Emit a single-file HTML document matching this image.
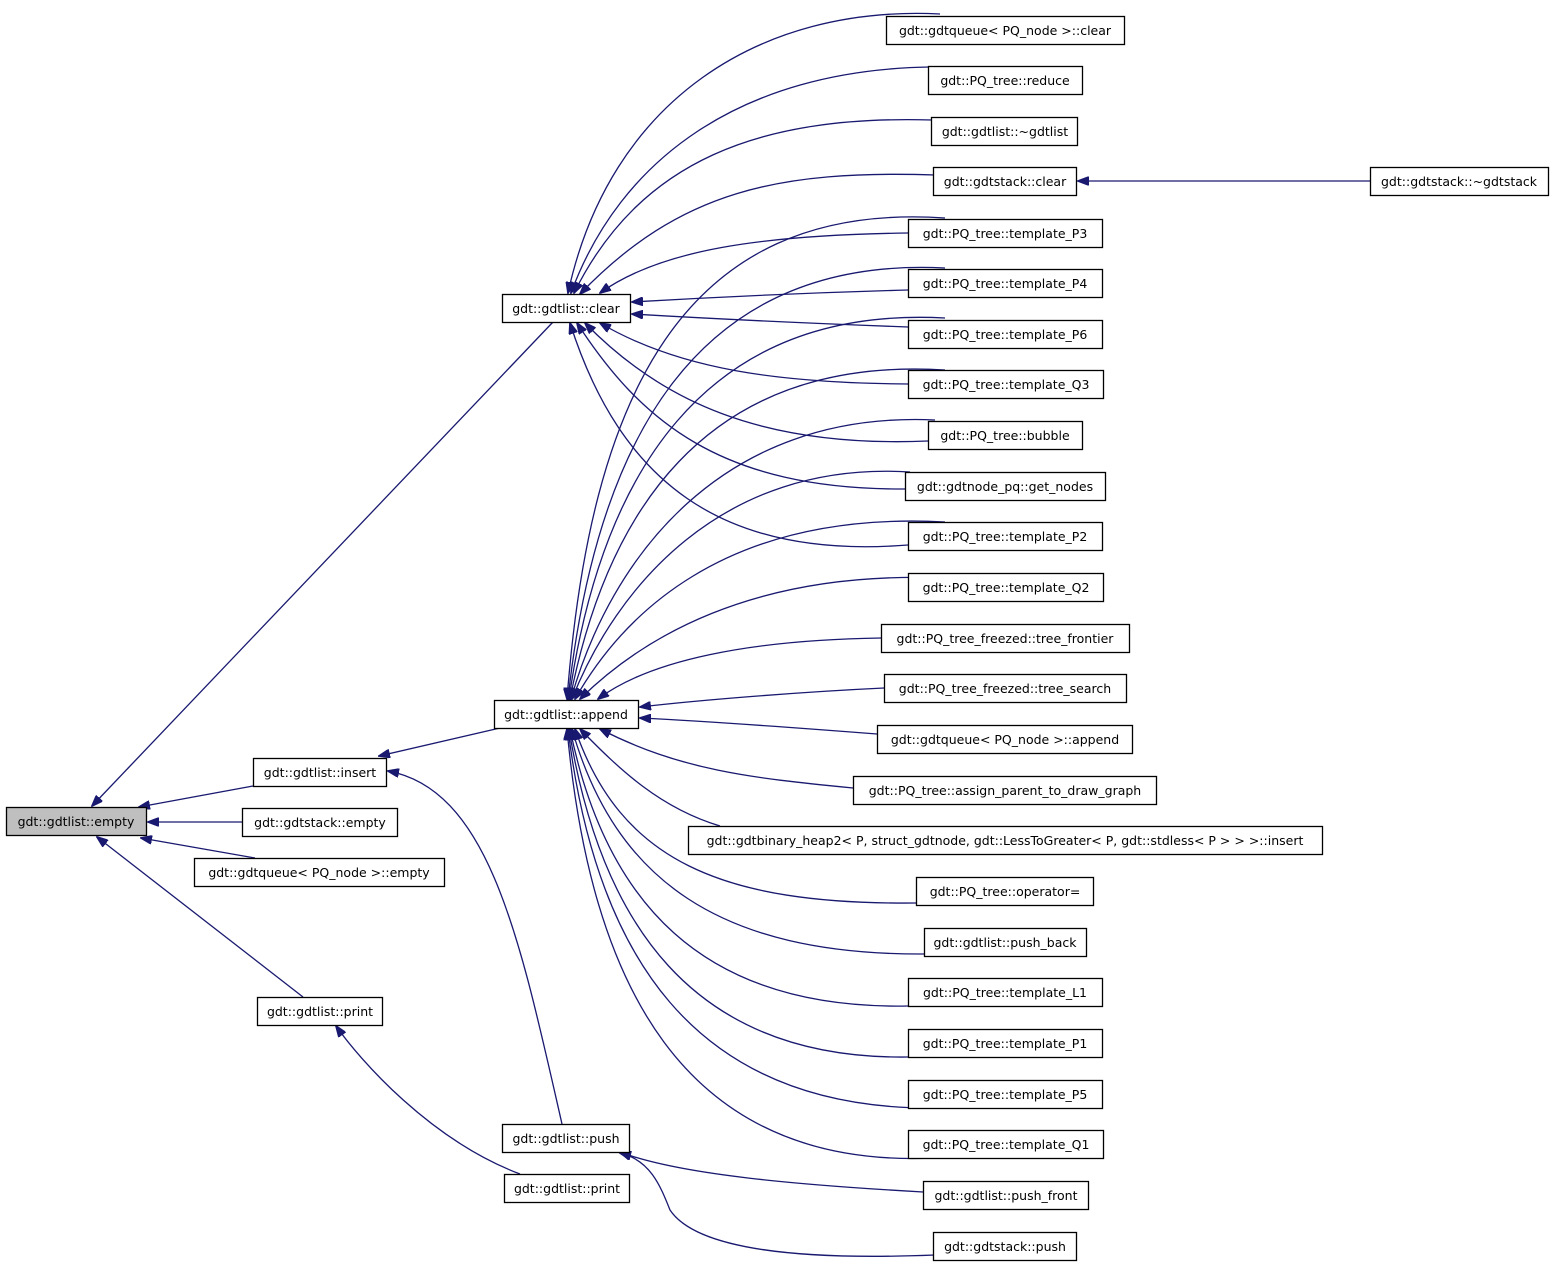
<!DOCTYPE html>
<html><head><meta charset="utf-8"><style>
html,body{margin:0;padding:0;background:#fff}
svg{display:block}
text{font-family:"DejaVu Sans","Liberation Sans",sans-serif;font-size:12.5px;fill:#000}
</style></head><body>
<svg width="1554" height="1265" viewBox="0 0 1554 1265" xmlns="http://www.w3.org/2000/svg">
<defs><marker id="a" markerWidth="12" markerHeight="9" refX="11" refY="4.5" orient="auto" markerUnits="userSpaceOnUse"><polygon points="0,0 12,4.5 0,9" fill="#191970" stroke="#191970"/></marker></defs>
<g fill="none" stroke="#191970" stroke-width="1.3" marker-end="url(#a)">
<path d="M553,322 L92,806"/>
<path d="M253,786 L139,807"/>
<path d="M242,822 L148,822"/>
<path d="M255,858 L141,838"/>
<path d="M303,997 L97,837"/>
<path d="M500,728 L379,756"/>
<path d="M562,1124 C520,940 490,790 388,771"/>
<path d="M520,1174 C430,1140 360,1060 336,1026"/>
<path d="M1370,181 L1078,181"/>
<path d="M940,14 C760,5 610,100 568,293"/>
<path d="M930,67 C740,70 620,160 571,293"/>
<path d="M932,120 C760,115 640,160 574,293"/>
<path d="M935,175 C780,170 680,190 580,294"/>
<path d="M908,233 C760,235 660,250 600,293"/>
<path d="M908,290 C800,293 700,298 632,302"/>
<path d="M908,327 C800,323 700,318 632,314"/>
<path d="M908,384 C780,383 680,370 600,323"/>
<path d="M928,441 C760,448 660,400 585,323"/>
<path d="M905,489 C720,490 640,420 577,323"/>
<path d="M908,545 C720,560 620,480 570,323"/>
<path d="M945,218 C680,200 590,400 567,699"/>
<path d="M945,268 C690,255 595,450 568,699"/>
<path d="M945,318 C700,305 600,480 569,699"/>
<path d="M945,370 C700,355 605,520 570,699"/>
<path d="M935,420 C720,410 610,560 571,699"/>
<path d="M910,472 C720,460 615,590 572,699"/>
<path d="M945,522 C720,510 620,620 575,699"/>
<path d="M945,578 C750,570 640,640 580,699"/>
<path d="M881,638 C750,640 650,660 598,699"/>
<path d="M884,688 C800,692 700,700 640,707"/>
<path d="M877,734 C800,728 720,722 640,718"/>
<path d="M853,788 C750,778 680,770 600,729"/>
<path d="M720,826 C660,808 620,770 580,729"/>
<path d="M916,903 C720,905 620,860 575,729"/>
<path d="M924,954 C720,955 615,880 572,729"/>
<path d="M908,1006 C700,1010 605,900 570,729"/>
<path d="M908,1057 C690,1060 600,920 569,729"/>
<path d="M935,1108 C690,1110 595,950 568,729"/>
<path d="M935,1158 C680,1170 590,980 567,729"/>
<path d="M923,1192 C800,1185 680,1175 620,1152"/>
<path d="M935,1255 C760,1262 690,1240 670,1210 C660,1185 650,1160 620,1153"/>
</g>
<g stroke="#000" stroke-width="1.3" fill="#fff">
<rect x="6.5" y="807.5" width="140" height="28" fill="#bfbfbf"/>
<rect x="502.5" y="294.5" width="128" height="28"/>
<rect x="253.5" y="758.5" width="133" height="28"/>
<rect x="242.5" y="808.5" width="155" height="28"/>
<rect x="194.5" y="858.5" width="250" height="28"/>
<rect x="257.5" y="997.5" width="125" height="28"/>
<rect x="494.5" y="700.5" width="144" height="28"/>
<rect x="502.5" y="1124.5" width="127" height="28"/>
<rect x="504.5" y="1174.5" width="125" height="28"/>
<rect x="886.5" y="16.5" width="238" height="28"/>
<rect x="928.5" y="66.5" width="154" height="28"/>
<rect x="931.5" y="117.5" width="146" height="28"/>
<rect x="933.5" y="167.5" width="143" height="28"/>
<rect x="1370.5" y="167.5" width="178" height="28"/>
<rect x="908.5" y="219.5" width="194" height="28"/>
<rect x="908.5" y="269.5" width="194" height="28"/>
<rect x="908.5" y="320.5" width="194" height="28"/>
<rect x="908.5" y="370.5" width="195" height="28"/>
<rect x="928.5" y="421.5" width="154" height="28"/>
<rect x="905.5" y="472.5" width="200" height="28"/>
<rect x="908.5" y="522.5" width="194" height="28"/>
<rect x="908.5" y="573.5" width="195" height="28"/>
<rect x="881.5" y="624.5" width="248" height="28"/>
<rect x="884.5" y="674.5" width="242" height="28"/>
<rect x="877.5" y="725.5" width="255" height="28"/>
<rect x="853.5" y="776.5" width="303" height="28"/>
<rect x="688.5" y="826.5" width="634" height="28"/>
<rect x="916.5" y="877.5" width="177" height="28"/>
<rect x="924.5" y="928.5" width="162" height="28"/>
<rect x="908.5" y="978.5" width="194" height="28"/>
<rect x="908.5" y="1029.5" width="194" height="28"/>
<rect x="908.5" y="1080.5" width="194" height="28"/>
<rect x="908.5" y="1130.5" width="195" height="28"/>
<rect x="923.5" y="1181.5" width="165" height="28"/>
<rect x="933.5" y="1232.5" width="143" height="28"/>
</g>
<g text-anchor="middle">
<text x="76" y="826">gdt::gdtlist::empty</text>
<text x="566" y="313">gdt::gdtlist::clear</text>
<text x="320" y="777">gdt::gdtlist::insert</text>
<text x="320" y="827">gdt::gdtstack::empty</text>
<text x="319" y="877">gdt::gdtqueue&lt; PQ_node &gt;::empty</text>
<text x="320" y="1016">gdt::gdtlist::print</text>
<text x="566" y="719">gdt::gdtlist::append</text>
<text x="566" y="1143">gdt::gdtlist::push</text>
<text x="567" y="1193">gdt::gdtlist::print</text>
<text x="1005" y="35">gdt::gdtqueue&lt; PQ_node &gt;::clear</text>
<text x="1005" y="85">gdt::PQ_tree::reduce</text>
<text x="1005" y="136">gdt::gdtlist::~gdtlist</text>
<text x="1005" y="186">gdt::gdtstack::clear</text>
<text x="1459" y="186">gdt::gdtstack::~gdtstack</text>
<text x="1005" y="238">gdt::PQ_tree::template_P3</text>
<text x="1005" y="288">gdt::PQ_tree::template_P4</text>
<text x="1005" y="339">gdt::PQ_tree::template_P6</text>
<text x="1006" y="389">gdt::PQ_tree::template_Q3</text>
<text x="1005" y="440">gdt::PQ_tree::bubble</text>
<text x="1005" y="491">gdt::gdtnode_pq::get_nodes</text>
<text x="1005" y="541">gdt::PQ_tree::template_P2</text>
<text x="1006" y="592">gdt::PQ_tree::template_Q2</text>
<text x="1005" y="643">gdt::PQ_tree_freezed::tree_frontier</text>
<text x="1005" y="693">gdt::PQ_tree_freezed::tree_search</text>
<text x="1005" y="744">gdt::gdtqueue&lt; PQ_node &gt;::append</text>
<text x="1005" y="795">gdt::PQ_tree::assign_parent_to_draw_graph</text>
<text x="1005" y="845">gdt::gdtbinary_heap2&lt; P, struct_gdtnode, gdt::LessToGreater&lt; P, gdt::stdless&lt; P &gt; &gt; &gt;::insert</text>
<text x="1005" y="896">gdt::PQ_tree::operator=</text>
<text x="1005" y="947">gdt::gdtlist::push_back</text>
<text x="1005" y="997">gdt::PQ_tree::template_L1</text>
<text x="1005" y="1048">gdt::PQ_tree::template_P1</text>
<text x="1005" y="1099">gdt::PQ_tree::template_P5</text>
<text x="1006" y="1149">gdt::PQ_tree::template_Q1</text>
<text x="1006" y="1200">gdt::gdtlist::push_front</text>
<text x="1005" y="1251">gdt::gdtstack::push</text>
</g>
</svg>
</body></html>
